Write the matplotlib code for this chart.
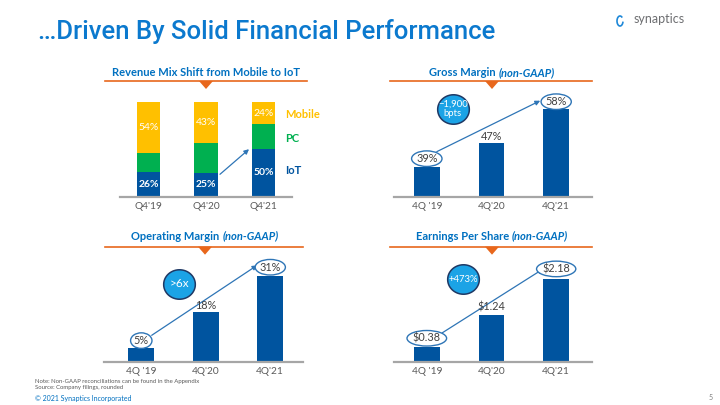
import numpy as np
import matplotlib.pyplot as plt
import matplotlib.transforms as mtransforms
from matplotlib.patches import Polygon, Arc
from matplotlib.lines import Line2D

# ---------- data ----------
mix_quarters = ["Q4'19", "Q4'20", "Q4'21"]
iot_share = [26, 25, 50]
pc_share = [20, 32, 26]
mobile_share = [54, 43, 24]

quarters = ["4Q '19", "4Q'20", "4Q'21"]
gross_margin = [39, 47, 58]
op_margin = [5, 18, 31]
eps = [0.38, 1.24, 2.18]

gm_labels = ['%d%%' % v for v in gross_margin]
om_labels = ['%d%%' % v for v in op_margin]
eps_labels = ['$%.2f' % v for v in eps]

# ---------- style ----------
W, H = 720, 405
plt.rcParams['font.family'] = ['Lato', 'DejaVu Sans']
TITLE = '#0B79CE'
HEAD = '#0070C0'
ORANGE = '#E8671C'
DARK = '#00549F'
YELLOW = '#FFC000'
GREEN = '#00B050'
AXIS = '#A6A6A6'
TICK = '#595959'
VAL = '#404040'
ARROW = '#2E75B6'
BUBBLE = '#1BA3E6'
BUBBLE_EDGE = '#1F3864'

fig = plt.figure(figsize=(W / 100, H / 100), dpi=100)
renderer = fig.canvas.get_renderer()


def fx(x):
    return x / W


def fy(y):
    return 1 - y / H


def px_axes(x0, y0, x1, y1):
    ax = fig.add_axes([fx(x0), fy(y1), (x1 - x0) / W, (y1 - y0) / H])
    ax.patch.set_alpha(0)
    for s in ['top', 'right', 'left']:
        ax.spines[s].set_visible(False)
    ax.spines['bottom'].set_color(AXIS)
    ax.spines['bottom'].set_linewidth(1.6)
    ax.set_yticks([])
    ax.tick_params(axis='x', length=0, pad=4, labelsize=7.3, labelcolor=TICK)
    return ax


def header(cx, ty, x0, x1, ly, bold, ital=None):
    parts = [fig.text(0, fy(ty), bold, color=HEAD, fontsize=8,
                      fontweight='bold', va='center')]
    if ital:
        parts.append(fig.text(0, fy(ty), ital, color=HEAD, fontsize=8,
                              fontweight='bold', style='italic', va='center'))
    widths = [p.get_window_extent(renderer).width for p in parts]
    gap = 3 if ital else 0
    x = cx - (sum(widths) + gap) / 2
    for p, w in zip(parts, widths):
        p.set_x(fx(x))
        x += w + gap
    fig.add_artist(Line2D([fx(x0), fx(x1)], [fy(ly), fy(ly)], color=ORANGE, lw=1.2))
    fig.add_artist(Polygon([[fx(cx - 7), fy(ly)], [fx(cx + 7), fy(ly)],
                            [fx(cx), fy(ly + 8)]], closed=True, color=ORANGE, lw=0))


def bubble(ax, x, y, text, fs=6.8):
    t = np.linspace(0, 2 * np.pi, 60)
    verts = np.column_stack([np.cos(t), 0.93 * np.sin(t)])
    ax.scatter([x], [y], s=520, marker=verts, color=BUBBLE,
               edgecolor=BUBBLE_EDGE, linewidth=1.1, zorder=4, clip_on=False)
    ax.text(x, y, text, color='white', fontsize=fs, ha='center', va='center',
            zorder=5, linespacing=1.1)


def arrow(ax, p0, d0, p1, d1):
    # d0, d1 are pixel offsets (dx, dy up) from the data anchors
    t0 = mtransforms.offset_copy(ax.transData, fig=fig, x=d0[0] * 0.72, y=d0[1] * 0.72, units='points')
    t1 = mtransforms.offset_copy(ax.transData, fig=fig, x=d1[0] * 0.72, y=d1[1] * 0.72, units='points')
    ax.annotate('', xy=p1, xycoords=t1, xytext=p0, textcoords=t0,
                arrowprops=dict(arrowstyle='-|>', color=ARROW, lw=0.9,
                                shrinkA=0, shrinkB=0, mutation_scale=7),
                zorder=3)


def value_panel(ax, vals, labels, circled_px):
    x = np.arange(len(vals))
    ax.bar(x, vals, width=0.4, color=DARK, zorder=2)
    for i, (v, lab) in enumerate(zip(vals, labels)):
        bb = None
        if i != 1:
            bb = dict(boxstyle='ellipse,pad=0.0', fc='white', ec=ARROW, lw=1)
        ax.annotate(lab, xy=(i, v), xytext=(0, circled_px[i] * 0.72),
                    textcoords='offset points', ha='center', va='center',
                    fontsize=7.8, color=VAL, bbox=bb, zorder=4)
    ax.set_xticks(x)
    return ax


# ---------- title / logo ----------
fig.text(fx(38), fy(31), '\u2026Driven By Solid Financial Performance', color=TITLE,
         fontsize=18.5, family='Roboto', fontweight='medium', va='center')
fig.text(fx(634), fy(19), 'synaptics', color='#6D6E71', fontsize=9, va='center')
fig.add_artist(Arc((fx(620), fy(21)), 6 / W, 10 / H, theta1=70, theta2=340,
                   color='#1E88D8', lw=1.2))

# ---------- panel 1 : revenue mix ----------
header(206, 72, 105, 307, 81, 'Revenue Mix Shift from Mobile to IoT')
ax1 = px_axes(120, 90, 292, 196.7)
x = np.arange(3)
ax1.bar(x, iot_share, width=0.41, color=DARK, zorder=2)
ax1.bar(x, pc_share, width=0.41, bottom=iot_share, color=GREEN, zorder=2)
bottom_m = np.array(iot_share) + np.array(pc_share)
ax1.bar(x, mobile_share, width=0.41, bottom=bottom_m, color=YELLOW, zorder=2)
for i in range(3):
    ax1.text(i, mobile_share[i] / 2 + bottom_m[i], '%d%%' % mobile_share[i],
             color='white', fontsize=7.5, ha='center', va='center')
    ax1.text(i, iot_share[i] / 2, '%d%%' % iot_share[i], color='white',
             fontsize=7.5, fontweight='bold', ha='center', va='center')
ax1.text(2.37, 87, 'Mobile', color=YELLOW, fontsize=8, fontweight='bold', va='center')
ax1.text(2.37, 61, 'PC', color=GREEN, fontsize=8, fontweight='bold', va='center')
ax1.text(2.37, 28, 'IoT', color=DARK, fontsize=8, fontweight='bold', va='center')
ax1.annotate('', xy=(2 - 0.253, iot_share[2]), xytext=(1 + 0.243, iot_share[1] - 1.4),
             arrowprops=dict(arrowstyle='-|>', color=ARROW, lw=0.9,
                             shrinkA=0, shrinkB=0, mutation_scale=7))
ax1.set_xlim(-0.493, 2.493)
ax1.set_ylim(0, 112.3)
ax1.set_xticks(x)
ax1.set_xticklabels(mix_quarters)

# ---------- panel 2 : gross margin ----------
header(492, 72.5, 390, 592, 81, 'Gross Margin', '(non-GAAP)')
ax2 = px_axes(394, 90, 591.7, 196.7)
value_panel(ax2, gross_margin, gm_labels, [8.6, 6.3, 7.3])
ax2.set_xticklabels(quarters)
ax2.set_xlim(-0.507, 2.549)
ax2.set_ylim(29.4, 64.2)
arrow(ax2, (0, gross_margin[0]), (10, 15.6), (2, gross_margin[2]), (-16, 8.3))
bubble(ax2, 0.40, 58.0, '\u22121,900\nbpts')

# ---------- panel 3 : operating margin ----------
header(205, 236, 105, 303, 246.7, 'Operating Margin', '(non-GAAP)')
ax3 = px_axes(104, 255, 303.3, 361.7)
value_panel(ax3, op_margin, om_labels, [7.3, 6.3, 9])
ax3.set_xticklabels(quarters)
ax3.set_xlim(-0.578, 2.512)
ax3.set_ylim(0, 38.7)
arrow(ax3, (0, op_margin[0]), (10.4, 12.6), (2, op_margin[2]), (-13, 11))
bubble(ax3, 0.589, 28.3, '>6x', fs=8.5)

# ---------- panel 4 : EPS ----------
header(492, 236, 390, 592, 246.7, 'Earnings Per Share', '(non-GAAP)')
ax4 = px_axes(394, 255, 591.7, 361.7)
value_panel(ax4, eps, eps_labels, [9, 7.6, 10])
ax4.set_xticklabels(quarters)
ax4.set_xlim(-0.507, 2.549)
ax4.set_ylim(0, 2.81)
arrow(ax4, (0, eps[0]), (15.4, 14.4), (2, eps[2]), (-13, 10))
bubble(ax4, 0.561, 2.17, '+473%')

# ---------- footer ----------
fig.text(fx(35), fy(381), 'Note: Non-GAAP reconciliations can be found in the Appendix',
         color='#595959', fontsize=4.3, va='center')
fig.text(fx(35), fy(388), 'Source: Company filings, rounded',
         color='#595959', fontsize=4.3, va='center')
fig.text(fx(35), fy(398), '\u00a9 2021 Synaptics Incorporated',
         color='#0070C0', fontsize=5, va='center')
fig.text(fx(713), fy(398), '5', color='#7F7F7F', fontsize=5, va='center', ha='right')

fig.savefig('out.png', dpi=100)
